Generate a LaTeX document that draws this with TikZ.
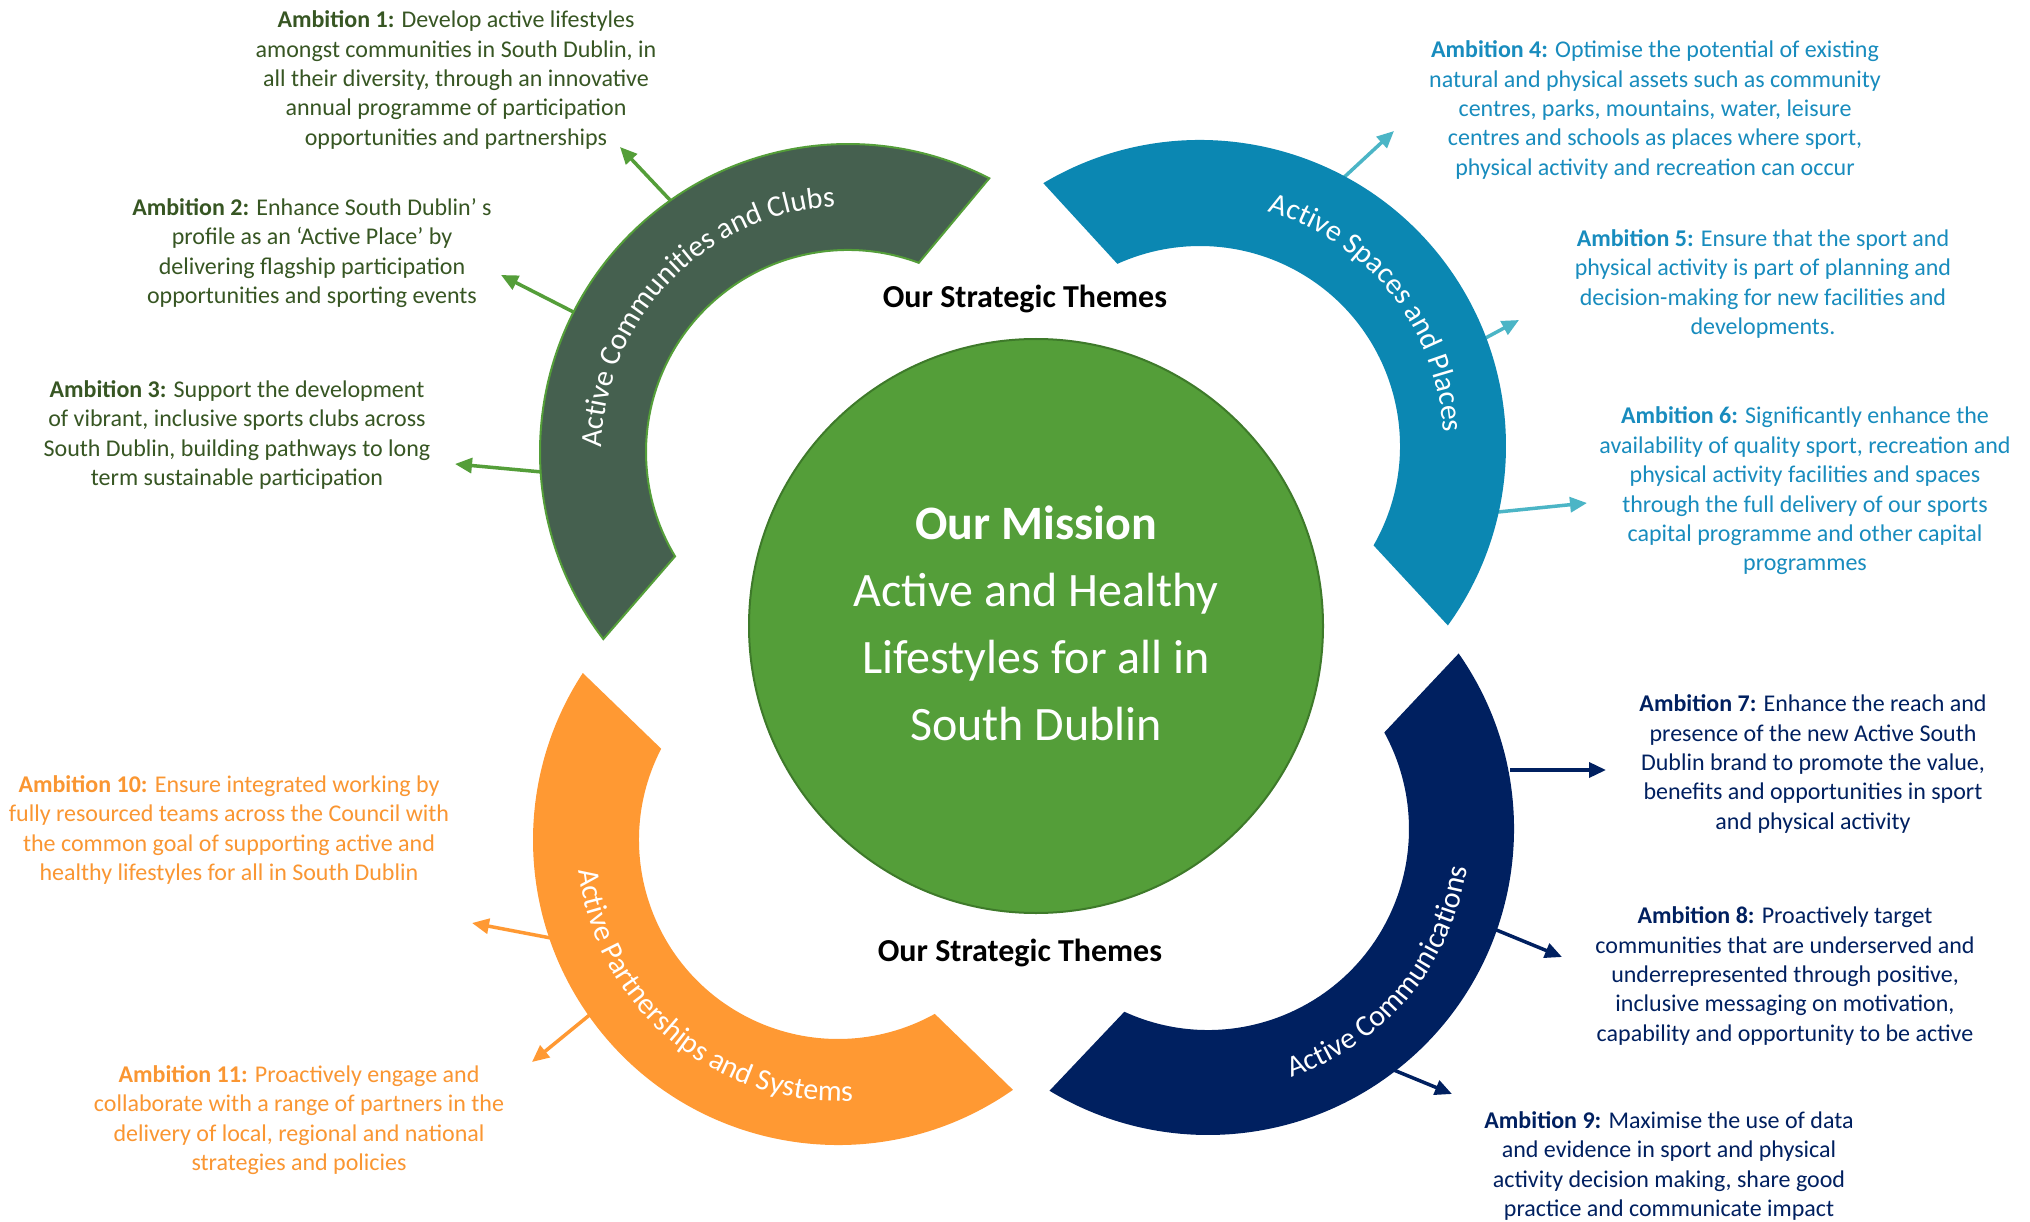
\documentclass[tikz,border=0pt]{standalone}
\usepackage{fontspec}
\setmainfont{Carlito}
\usetikzlibrary{arrows.meta,decorations.text,calc}
\definecolor{gtext}{RGB}{55,86,35}
\definecolor{garc}{RGB}{69,96,79}
\definecolor{gline}{RGB}{84,158,57}
\definecolor{garrow}{RGB}{84,158,57}
\definecolor{btext}{RGB}{24,140,190}
\definecolor{barc}{RGB}{11,135,178}
\definecolor{barrow}{RGB}{75,181,198}
\definecolor{navy}{RGB}{0,32,96}
\definecolor{orng}{RGB}{255,153,51}
\definecolor{otext}{RGB}{250,150,50}
\definecolor{mission}{RGB}{84,158,57}
\definecolor{missionline}{RGB}{62,122,42}
\begin{document}
\begin{tikzpicture}[x=1pt,y=-1pt,
  amb/.style={align=center, font=\fontsize{24}{29.4}\selectfont, inner sep=0pt},
  arr/.style={line width=3.5pt, -{Triangle[length=17pt,width=15pt]}},
  theme/.style={font=\fontsize{32}{37}\selectfont\bfseries, inner sep=0pt},
  band/.style={draw=none}]
\useasboundingbox[fill=white] (0,0) rectangle (2030,1222);

% centres of the four bands
\coordinate (cg) at (848,452);
\coordinate (cb) at (1200,446);
\coordinate (co) at (838,840);
\coordinate (cn) at (1208,829);

% ---------- arrows (drawn first, tails hidden under bands)
\coordinate (t1) at (686,217); \coordinate (h1) at (620,147);
\coordinate (t2) at (593,322); \coordinate (h2) at (501,275);
\coordinate (t3) at (542,472); \coordinate (h3) at (455,464);
\coordinate (t4) at (1326,194); \coordinate (h4) at (1394,131);
\coordinate (t5) at (1467,348); \coordinate (h5) at (1519,320);
\coordinate (t6) at (1498,512); \coordinate (h6) at (1587,503);
\coordinate (t7) at (1510,770); \coordinate (h7) at (1606,770);
\coordinate (t8) at (1477,922); \coordinate (h8) at (1562,957);
\coordinate (t9) at (1367,1059); \coordinate (h9) at (1452,1094);
\coordinate (t10) at (577,943); \coordinate (h10) at (472,923);
\coordinate (t11) at (614,995); \coordinate (h11) at (532,1062);
\draw[arr,garrow] (t1) -- (h1);
\draw[arr,garrow] (t2) -- (h2);
\draw[arr,garrow] (t3) -- (h3);
\draw[arr,barrow] (t4) -- (h4);
\draw[arr,barrow] (t5) -- (h5);
\draw[arr,barrow] (t6) -- (h6);
\draw[arr,navy] (t7) -- (h7);
\draw[arr,navy] (t8) -- (h8);
\draw[arr,navy] (t9) -- (h9);
\draw[arr,orng] (t10) -- (h10);
\draw[arr,orng] (t11) -- (h11);

% ---------- bands
\filldraw[fill=garc, draw=gline, line width=2pt]
  (cg) ++(142.6:308) arc[start angle=142.6, end angle=297.3, radius=308]
  -- ($(cg)+(290.5:202)$) arc[start angle=290.5, end angle=148.9, radius=202] -- cycle;
\fill[barc]
  (cb) ++(-120.8:306) arc[start angle=-120.8, end angle=35.9, radius=306]
  -- ($(cb)+(29.8:200)$) arc[start angle=29.8, end angle=-114.4, radius=200] -- cycle;
\fill[orng]
  (co) ++(55:305) arc[start angle=55, end angle=213.2, radius=305]
  -- ($(co)+(207.3:199)$) arc[start angle=207.3, end angle=60.9, radius=199] -- cycle;
\fill[navy]
  (cn) ++(-35:306) arc[start angle=-35, end angle=121.2, radius=306]
  -- ($(cn)+(114.6:201)$) arc[start angle=114.6, end angle=-28.7, radius=201] -- cycle;

% ---------- band labels
\path[decorate, decoration={text along path, text align=center, text color=white,
  text={|\fontsize{30}{36}\selectfont|Active Communities and Clubs}}]
  (cg) ++(150:246) arc[start angle=150, end angle=298, radius=246];
\path[decorate, decoration={text along path, text align=center, text color=white,
  text={|\fontsize{30}{36}\selectfont|Active Spaces and Places}}]
  (cb) ++(-110:244) arc[start angle=-110, end angle=33, radius=244];
\path[decorate, decoration={text along path, text align=center, text color=white,
  text={|\fontsize{30}{36}\selectfont|Active Communications}}]
  (cn) ++(110:262) arc[start angle=110, end angle=-30, radius=262];
\path[decorate, decoration={text along path, text align=center, text color=white,
  text={|\fontsize{30}{36}\selectfont|Active Partnerships and Systems}}]
  (co) ++(200:261) arc[start angle=200, end angle=60, radius=261];

% ---------- mission circle
\node[circle, minimum size=574pt, fill=mission, draw=missionline, line width=2pt] (mc) at (1036,626) {};
\node[align=center, text=white, font=\fontsize{48}{67}\selectfont, inner sep=0pt] (mt) at (1036,623)
  {\textbf{Our Mission}\\Active and Healthy\\Lifestyles for all in\\South Dublin};

\node[theme] (th1) at (1025,299) {Our Strategic Themes};
\node[theme] (th2) at (1020,953) {Our Strategic Themes};

% ---------- ambitions
\node[amb, text=gtext] (a1) at (456,80) {\textbf{Ambition 1:} Develop active lifestyles\\amongst communities in South Dublin, in\\all their diversity, through an innovative\\annual programme of participation\\opportunities and partnerships};
\node[amb, text=gtext] (a2) at (312,253) {\textbf{Ambition 2:} Enhance South Dublin’ s\\profile as an ‘Active Place’ by\\delivering flagship participation\\opportunities and sporting events};
\node[amb, text=gtext] (a3) at (237,435) {\textbf{Ambition 3:} Support the development\\of vibrant, inclusive sports clubs across\\South Dublin, building pathways to long\\term sustainable participation};
\node[amb, text=btext] (a4) at (1655,110) {\textbf{Ambition 4:} Optimise the potential of existing\\natural and physical assets such as community\\centres, parks, mountains, water, leisure\\centres and schools as places where sport,\\physical activity and recreation can occur};
\node[amb, text=btext] (a5) at (1763,284) {\textbf{Ambition 5:} Ensure that the sport and\\physical activity is part of planning and\\decision-making for new facilities and\\developments.};
\node[amb, text=btext] (a6) at (1805,491) {\textbf{Ambition 6:} Significantly enhance the\\availability of quality sport, recreation and\\physical activity facilities and spaces\\through the full delivery of our sports\\capital programme and other capital\\programmes};
\node[amb, text=navy] (a7) at (1813,764) {\textbf{Ambition 7:} Enhance the reach and\\presence of the new Active South\\Dublin brand to promote the value,\\benefits and opportunities in sport\\and physical activity};
\node[amb, text=navy] (a8) at (1785,976) {\textbf{Ambition 8:} Proactively target\\communities that are underserved and\\underrepresented through positive,\\inclusive messaging on motivation,\\capability and opportunity to be active};
\node[amb, text=navy] (a9) at (1669,1166) {\textbf{Ambition 9:} Maximise the use of data\\and evidence in sport and physical\\activity decision making, share good\\practice and communicate impact};
\node[amb, text=otext] (a10) at (229,830) {\textbf{Ambition 10:} Ensure integrated working by\\fully resourced teams across the Council with\\the common goal of supporting active and\\healthy lifestyles for all in South Dublin};
\node[amb, text=otext] (a11) at (299,1120) {\textbf{Ambition 11:} Proactively engage and\\collaborate with a range of partners in the\\delivery of local, regional and national\\strategies and policies};
\end{tikzpicture}
\end{document}
